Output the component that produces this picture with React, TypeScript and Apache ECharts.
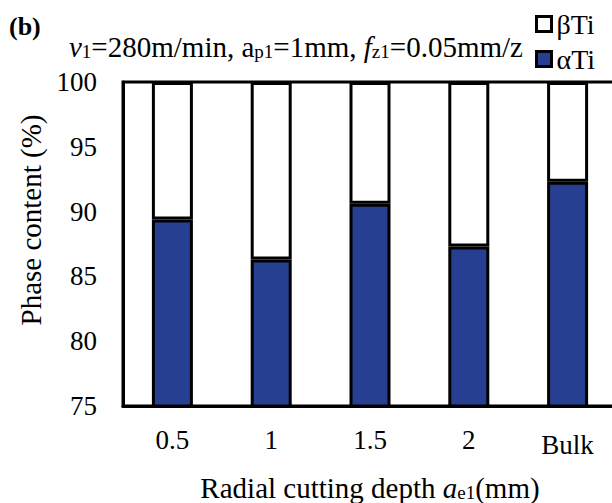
import React, { useEffect, useRef } from "react";
import * as echarts from "echarts";

const categories = ["0.5", "1", "1.5", "2", "Bulk"];
const alphaTi = [89.4, 86.3, 90.6, 87.3, 92.3];
const betaTi = [10.6, 13.7, 9.4, 12.7, 7.7];
const yMin = 75;
const yMax = 100;
const yStep = 5;

const FONT = "'Liberation Serif', 'Times New Roman', serif";
const BLUE = "#263f91";

export default function App() {
  const ref = useRef<HTMLDivElement>(null);
  useEffect(() => {
    document.body.style.margin = "0";
    if (!ref.current) return;
    const chart = echarts.init(ref.current, null, { renderer: "svg" });
    const norm = { fontSize: 29, lineHeight: 29, fontFamily: FONT, fontWeight: "normal", color: "#000", verticalAlign: "bottom" };
    const ital = { ...norm, fontStyle: "italic" };
    const sub = { fontSize: 19, lineHeight: 9, fontFamily: FONT, fontWeight: "normal", color: "#000", verticalAlign: "bottom" };
    chart.setOption({
      animation: false,
      backgroundColor: "#fff",
      title: [
        {
          text: "(b)",
          left: 9,
          top: 13,
          padding: 0,
          textStyle: { fontFamily: FONT, fontSize: 26, lineHeight: 26, fontWeight: "bold", color: "#000" },
        },
        {
          text: "{i|v}{s|1}{n|=280m/min, a}{s|p1}{n|=1mm, }{i|f}{s|z1}{n|=0.05mm/z}",
          left: 69,
          top: 32,
          padding: 0,
          textStyle: { fontWeight: "normal", rich: { i: ital, s: sub, n: norm } },
        },
      ],
      legend: {
        orient: "vertical",
        left: 535,
        top: 10,
        padding: 0,
        itemWidth: 15,
        itemHeight: 15,
        itemGap: 7,
        icon: "rect",
        textStyle: { fontFamily: FONT, fontSize: 28, lineHeight: 28, color: "#000" },
        data: [
          { name: "βTi", itemStyle: { color: "#fff", borderColor: "#000", borderWidth: 3 } },
          { name: "αTi", itemStyle: { color: BLUE, borderColor: "#000", borderWidth: 3 } },
        ],
      },
      grid: {
        left: 123,
        top: 82,
        right: -5,
        bottom: 97,
        containLabel: false,
        outerBoundsMode: "none",
        show: true,
        borderColor: "#000",
        borderWidth: 3,
        backgroundColor: "transparent",
      },
      xAxis: {
        type: "category",
        data: categories,
        axisLine: { show: true, lineStyle: { color: "#000", width: 3 } },
        axisTick: { show: false },
        axisLabel: {
          interval: 0,
          hideOverlap: false,
          margin: 20,
          fontFamily: FONT,
          fontSize: 27,
          color: "#000",
          formatter: (v: string) => (v === "Bulk" ? "{b|Bulk}" : v),
          rich: { b: { fontFamily: FONT, fontSize: 27, color: "#000", padding: [5, 0, 0, 0] } },
        },
        name: "{n|Radial cutting depth }{i|a}{s|e1}{n|(mm)}",
        nameLocation: "middle",
        nameGap: 67,
        nameTextStyle: {
          rich: { n: norm, i: ital, s: sub },
        },
      },
      yAxis: {
        type: "value",
        min: yMin,
        max: yMax,
        interval: yStep,
        axisLine: { show: true, lineStyle: { color: "#000", width: 3 } },
        axisTick: { show: false },
        splitLine: { show: false },
        axisLabel: { margin: 26, fontFamily: FONT, fontSize: 27, color: "#000" },
        name: "Phase content (%)",
        nameLocation: "middle",
        nameRotate: 90,
        nameGap: 78,
        nameTextStyle: { fontFamily: FONT, fontSize: 29, color: "#000", padding: [0, 0, 0, 48] },
      },
      series: [
        {
          name: "αTi",
          type: "bar",
          stack: "phase",
          barWidth: 41,
          data: alphaTi,
          itemStyle: { color: BLUE, borderColor: "#000", borderWidth: 3 },
        },
        {
          name: "βTi",
          type: "bar",
          stack: "phase",
          barWidth: 41,
          data: betaTi,
          itemStyle: { color: "#fff", borderColor: "#000", borderWidth: 3 },
        },
      ],
    });
    return () => chart.dispose();
  }, []);
  return <div ref={ref} style={{ width: 612, height: 503 }} />;
}
